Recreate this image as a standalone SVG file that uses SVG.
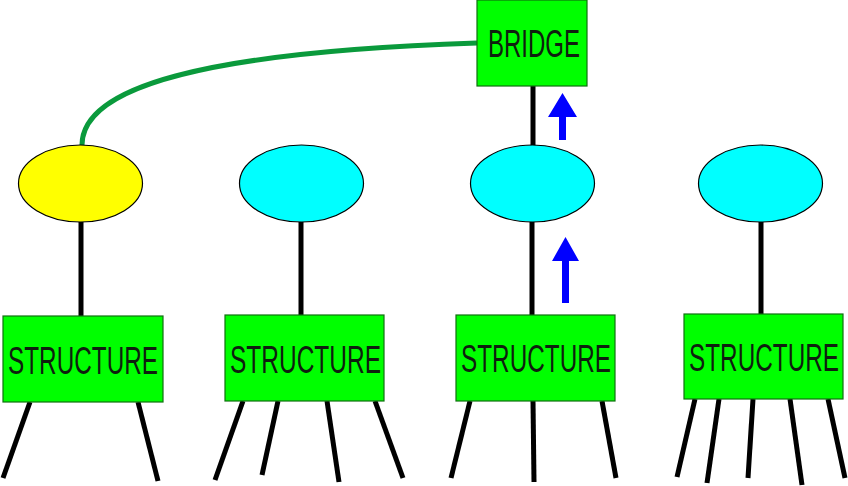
<svg xmlns="http://www.w3.org/2000/svg" width="848" height="486" viewBox="0 0 848 486">
<style>
.box{fill:#00ff00;stroke:#107010;stroke-width:1.2}
.lbl{font-family:"Liberation Sans",Arial,sans-serif;font-size:38px;fill:#0f1f0f}
.ell{stroke:#000;stroke-width:1.2}
.ln{stroke:#000;stroke-width:5;fill:none}
.arr{fill:#0000ff}
</style>
<rect width="848" height="486" fill="#fff"/>
<g id="connectors">
<path d="M82 145 C82 88 200 52 477 43" fill="none" stroke="#0a9a3c" stroke-width="5"/>
<line class="ln" x1="533" y1="86" x2="533" y2="146"/>
<line class="ln" x1="81" y1="222" x2="81" y2="316"/>
<line class="ln" x1="301" y1="222" x2="301" y2="315"/>
<line class="ln" x1="532" y1="222" x2="532" y2="315"/>
<line class="ln" x1="761" y1="222" x2="761" y2="314"/>
<line class="ln" x1="30" y1="402" x2="3" y2="478"/>
<line class="ln" x1="138" y1="402" x2="158" y2="481"/>
<line class="ln" x1="243" y1="401" x2="215" y2="480"/>
<line class="ln" x1="278" y1="401" x2="262" y2="475"/>
<line class="ln" x1="327" y1="401" x2="339" y2="482"/>
<line class="ln" x1="375" y1="401" x2="403" y2="478"/>
<line class="ln" x1="470" y1="401" x2="451" y2="478"/>
<line class="ln" x1="533" y1="401" x2="534" y2="482"/>
<line class="ln" x1="602" y1="401" x2="616" y2="478"/>
<line class="ln" x1="695" y1="399" x2="677" y2="477"/>
<line class="ln" x1="719" y1="399" x2="707" y2="483"/>
<line class="ln" x1="753" y1="399" x2="748" y2="478"/>
<line class="ln" x1="790" y1="399" x2="802" y2="485"/>
<line class="ln" x1="828" y1="399" x2="845" y2="478"/>
<path class="arr" d="M562.5 93 L577 117 L566 117 L566 140 L559 140 L559 117 L548 117 Z"/>
<path class="arr" d="M565.5 237 L579 261 L569 261 L569 303 L562 303 L562 261 L552 261 Z"/>
</g>
<g id="bridge">
<rect class="box" x="477" y="0" width="110" height="86"/>
<text class="lbl" x="488" y="57" textLength="92" lengthAdjust="spacingAndGlyphs">BRIDGE</text>
</g>
<g id="ellipse1"><ellipse class="ell" cx="80.5" cy="183.5" rx="62" ry="38.5" fill="#ffff00"/></g>
<g id="ellipse2"><ellipse class="ell" cx="301.5" cy="183.5" rx="62" ry="38.5" fill="#00ffff"/></g>
<g id="ellipse3"><ellipse class="ell" cx="532.5" cy="183.5" rx="62" ry="38.5" fill="#00ffff"/></g>
<g id="ellipse4"><ellipse class="ell" cx="760.5" cy="183.5" rx="62" ry="38.5" fill="#00ffff"/></g>
<g id="structure1">
<rect class="box" x="3" y="316" width="160" height="86"/>
<text class="lbl" x="8" y="374" textLength="150" lengthAdjust="spacingAndGlyphs">STRUCTURE</text>
</g>
<g id="structure2">
<rect class="box" x="225" y="315" width="159" height="86"/>
<text class="lbl" x="230" y="373" textLength="151" lengthAdjust="spacingAndGlyphs">STRUCTURE</text>
</g>
<g id="structure3">
<rect class="box" x="456" y="315" width="159" height="86"/>
<text class="lbl" x="461" y="372" textLength="150" lengthAdjust="spacingAndGlyphs">STRUCTURE</text>
</g>
<g id="structure4">
<rect class="box" x="684" y="314" width="159" height="85"/>
<text class="lbl" x="689" y="371" textLength="150" lengthAdjust="spacingAndGlyphs">STRUCTURE</text>
</g>
</svg>
